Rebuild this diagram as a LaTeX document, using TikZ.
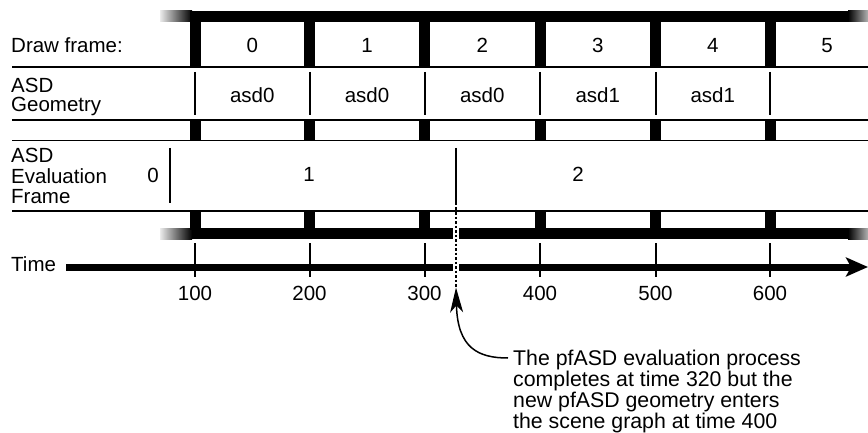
\documentclass[tikz,border=0pt]{standalone}
\usepackage{fontspec}
\setmainfont{Liberation Sans}
\usetikzlibrary{arrows.meta}
\begin{document}
\begin{tikzpicture}[x=1pt,y=-1pt,
  font=\fontsize{20.5}{17}\selectfont,
  lab/.style={anchor=base, inner sep=0pt},
  llab/.style={anchor=base west, inner sep=0pt},
  mlab/.style={anchor=north west, align=left, inner sep=0pt},
  rule/.style={line width=1.6pt, black},
  sep/.style={line width=2pt, black},
  tick/.style={line width=2pt, black},
  axis/.style={line width=7pt, -{Stealth[length=22pt,width=19pt,inset=5pt]}},
  dots/.style={line width=1.5pt, dash pattern=on 2.5pt off 2pt},
  callout/.style={line width=1.5pt, -{Stealth[length=25pt,width=13pt,inset=7pt]}}]
\useasboundingbox (0,0) rectangle (868,433);

% thick top and bottom bars with fading ends
\fill[black] (192,11) rectangle (848,22);
\shade[left color=black!8, right color=black] (160,11) rectangle (192,22);
\shade[left color=black, right color=black!30] (848,11) rectangle (868,22);
\fill[black] (192,228) rectangle (848,239);
\shade[left color=black!8, right color=black] (160,228) rectangle (192,239);
\shade[left color=black, right color=black!30] (848,228) rectangle (868,239);

% thin row rules
\coordinate (r1a) at (12,67);   \coordinate (r1b) at (868,67);
\coordinate (r2a) at (12,120);  \coordinate (r2b) at (868,120);
\coordinate (r3a) at (12,140.5);\coordinate (r3b) at (868,140.5);
\coordinate (r4a) at (12,211);  \coordinate (r4b) at (868,211);
\draw[rule] (r1a) -- (r1b);
\draw[rule] (r2a) -- (r2b);
\draw[rule] (r3a) -- (r3b);
\draw[rule] (r4a) -- (r4b);

% frame boundaries
\foreach \x/\t in {195/100,309.5/200,424.5/300,540/400,655.5/500,770/600}{
  \fill[black] (\x-5.5,11) rectangle (\x+5.5,66.5);
  \fill[black] (\x-5.5,120.5) rectangle (\x+5.5,140);
  \fill[black] (\x-5.5,211) rectangle (\x+5.5,230);
  \coordinate (g\t a) at (\x,72); \coordinate (g\t b) at (\x,115);
  \draw[sep] (g\t a) -- (g\t b);
  \coordinate (k\t a) at (\x,243); \coordinate (k\t b) at (\x,277);
  \draw[tick] (k\t a) -- (k\t b);
  \node[lab] (tl\t) at (\x,300) {\t};
}

% time axis
\node[llab] (time) at (11,271) {Time};
\coordinate (ax0) at (66,267); \coordinate (ax1) at (868,267);
\draw[axis] (ax0) -- (ax1);

% row labels
\node[llab] (drawframe) at (11,53) {Draw frame:};
\node[mlab, font=\fontsize{20.5}{19}\selectfont] (geo) at (11,78.3) {ASD\\Geometry};
\node[mlab, font=\fontsize{20.5}{20.5}\selectfont] (ev) at (11,148.3) {ASD\\Evaluation\\Frame};

% draw frame numbers
\foreach \x/\n in {252.25/0,367/1,482.25/2,597.75/3,712.75/4,827/5}{
  \node[lab] (df\n) at (\x,53) {\n};
}
% geometry
\node[lab] (asdA) at (252.25,103) {asd0};
\node[lab] (asdB) at (367,103) {asd0};
\node[lab] (asdC) at (482.25,103) {asd0};
\node[lab] (asdD) at (597.75,103) {asd1};
\node[lab] (asdE) at (712.75,103) {asd1};

% evaluation frames
\coordinate (e0a) at (170,148); \coordinate (e0b) at (170,203);
\draw[sep] (e0a) -- (e0b);
\node[lab] (evz) at (153,182.5) {0};
\node[lab] (evo) at (309,182) {1};
\node[lab] (evt) at (578,182) {2};
\coordinate (e2a) at (456,148); \coordinate (e2b) at (456,203);
\draw[sep] (e2a) -- (e2b);

% gaps where the dotted line crosses
\fill[white] (453,226) rectangle (459,241);
\fill[white] (453,262) rectangle (459,272);
\coordinate (tip) at (456,287.5);
\draw[dots] (e2b) -- (tip);

% annotation
\node[mlab, font=\fontsize{21.3}{17}\selectfont] (note) at (513,350)
  {The pfASD evaluation process\\completes at time 320 but the\\new pfASD geometry enters\\the scene graph at time 400};
\draw[callout] ([xshift=-5pt,yshift=-8pt]note.north west) .. controls (478,358) and (457.5,348) .. (tip);
\end{tikzpicture}
\end{document}
